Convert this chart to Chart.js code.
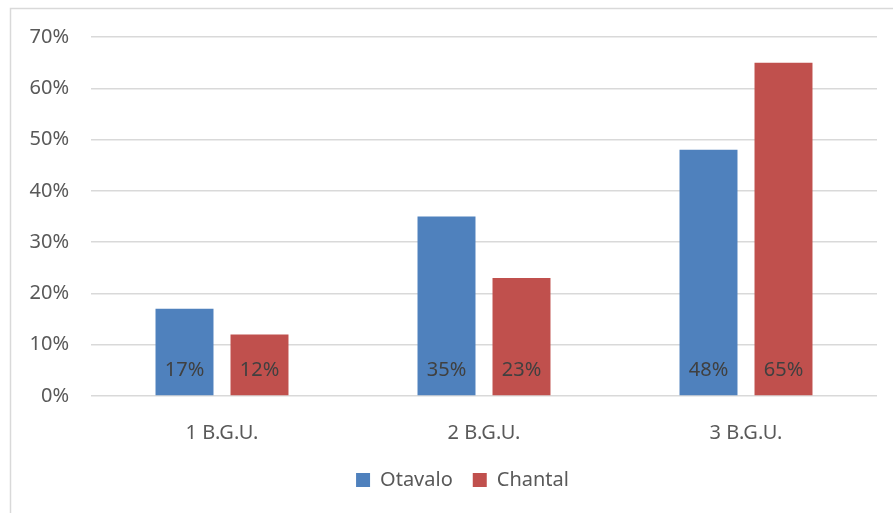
<!DOCTYPE html>
<html><head><meta charset="utf-8">
<script src="https://cdn.jsdelivr.net/npm/chart.js@4"></script>
<style>html,body{margin:0;padding:0;background:#fff;}#wrap{width:893px;height:513px;position:relative;}</style>
</head><body><div id="wrap"><canvas id="c" width="893" height="513"></canvas></div>
<script>
const categories = ['1 B.G.U.', '2 B.G.U.', '3 B.G.U.'];
const otavalo = [17, 35, 48];
const chantal = [12, 23, 65];
const seriesNames = ['Otavalo', 'Chantal'];
const yTicks = [0, 10, 20, 30, 40, 50, 60, 70];

const FONT = '"Noto Sans", sans-serif';
const FS = 20;

const frame = {
  id: 'frame',
  beforeDraw(chart) {
    const ctx = chart.ctx;
    ctx.save();
    ctx.fillStyle = '#fff';
    ctx.fillRect(0, 0, chart.width, chart.height);
    ctx.strokeStyle = '#d9d9d9';
    ctx.lineWidth = 1.5;
    ctx.beginPath();
    ctx.moveTo(10.5, chart.height + 5);
    ctx.lineTo(10.5, 8.5);
    ctx.lineTo(chart.width + 5, 8.5);
    ctx.stroke();
    ctx.restore();
  }
};

const legendShift = {
  id: 'legendShift',
  afterLayout(chart) {
    if (chart.legend) { chart.legend.left += 19; chart.legend.right += 19; }
  }
};

const labelsPlugin = {
  id: 'barLabels',
  afterDatasetsDraw(chart) {
    const ctx = chart.ctx;
    const yScale = chart.scales.y;
    ctx.save();
    ctx.font = FS + 'px ' + FONT;
    ctx.fillStyle = '#404040';
    ctx.textAlign = 'center';
    ctx.textBaseline = 'middle';
    chart.data.datasets.forEach((ds, i) => {
      const meta = chart.getDatasetMeta(i);
      meta.data.forEach((bar, j) => {
        ctx.fillText(ds.data[j] + '%', bar.x, yScale.getPixelForValue(0) - 26);
      });
    });
    ctx.restore();
  }
};

new Chart(document.getElementById('c'), {
  type: 'bar',
  data: {
    labels: categories,
    datasets: [
      { label: seriesNames[0], data: otavalo, backgroundColor: '#4F81BD' },
      { label: seriesNames[1], data: chantal, backgroundColor: '#C0504D' }
    ]
  },
  options: {
    responsive: false,
    animation: false,
    devicePixelRatio: 1,
    layout: { padding: { left: 10, right: 16, top: 37, bottom: 13 } },
    datasets: { bar: { categoryPercentage: 0.5725, barPercentage: 0.773 } },
    scales: {
      x: {
        grid: { display: false, drawTicks: false },
        border: { display: false },
        ticks: { color: '#595959', font: { family: FONT, size: FS }, padding: 25 },
        afterFit(s) { s.height = 54; }
      },
      y: {
        min: 0, max: 70,
        afterBuildTicks(s) { s.ticks = yTicks.map(v => ({ value: v })); },
        grid: { color: '#d9d9d9', lineWidth: 1.5, drawTicks: false },
        border: { display: false },
        ticks: { color: '#595959', font: { family: FONT, size: FS }, padding: 22, callback: v => v + '%' },
        afterFit(s) { s.width = 81; }
      }
    },
    plugins: {
      legend: {
        position: 'bottom',
        labels: { color: '#595959', font: { family: FONT, size: FS }, boxWidth: 14, boxHeight: 14, padding: 20 }
      },
      tooltip: { enabled: false }
    }
  },
  plugins: [frame, legendShift, labelsPlugin]
});
</script></body></html>
